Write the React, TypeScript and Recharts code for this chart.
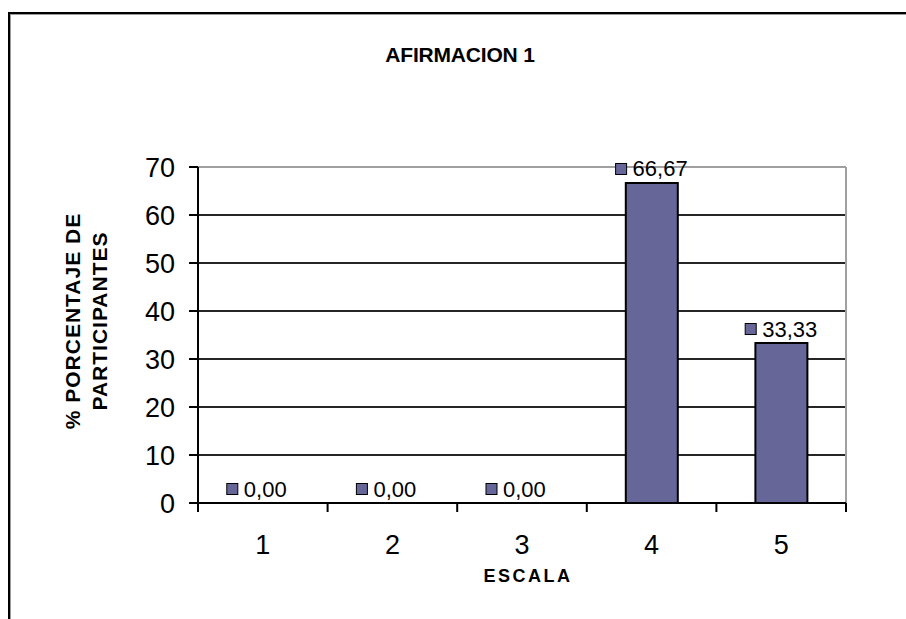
import React from "react";
import {
  ComposedChart,
  Bar,
  Line,
  XAxis,
  YAxis,
  CartesianGrid,
  ReferenceLine,
  LabelList,
} from "recharts";

const categories = ["1", "2", "3", "4", "5"];
const percentages = [0, 0, 0, 66.67, 33.33];
const yTicks = [0, 10, 20, 30, 40, 50, 60, 70];

const title = "AFIRMACION 1";
const yTitle = ["% PORCENTAJE DE", "PARTICIPANTES"];
const xTitle = "ESCALA";

const data = categories.map((c, i) => ({ escala: c, pct: percentages[i] }));

const FONT = '"Liberation Sans", Arial, sans-serif';
const BAR = "#666699";
const TICK_GAP = 32;

// value label with the little legend key in front, like Excel draws it
function ValueLabel(props: any) {
  const { x, y, value } = props;
  const cy = y - 14;
  return (
    <g>
      <rect x={x - 36} y={cy - 5.5} width={11} height={11} fill={BAR} stroke="#000" strokeWidth={1} />
      <text x={x - 19} y={cy} dominantBaseline="central" fontFamily={FONT} fontSize={22} fill="#000">
        {Number(value).toFixed(2).replace(".", ",")}
      </text>
    </g>
  );
}

// category label, plus tick marks on the category boundaries
function XTick(props: any) {
  const { x, y, payload, index, visibleTicksCount, width } = props;
  const half = payload.offset ?? width / categories.length / 2;
  const axisY = y - TICK_GAP;
  const last = index === (visibleTicksCount ?? categories.length) - 1;
  return (
    <g>
      <line x1={x - half} x2={x - half} y1={axisY} y2={axisY + 9} stroke="#000" strokeWidth={2} />
      {last && <line x1={x + half} x2={x + half} y1={axisY} y2={axisY + 9} stroke="#000" strokeWidth={2} />}
      <text x={x} y={y} dy="0.71em" textAnchor="middle" fontFamily={FONT} fontSize={27} fill="#000">
        {payload.value}
      </text>
    </g>
  );
}

export default function App() {
  return (
    <div style={{ position: "fixed", left: 0, top: 0, width: 906, height: 619, background: "#fff", overflow: "hidden" }}>
      <div style={{ position: "absolute", left: 8, top: 12, width: 900, height: 2, background: "#000" }} />
      <div style={{ position: "absolute", left: 8, top: 14, width: 900, height: 1, background: "#999" }} />
      <div style={{ position: "absolute", left: 8, top: 12, width: 2, height: 610, background: "#000" }} />
      <div style={{ position: "absolute", left: 10, top: 14, width: 1, height: 610, background: "#999" }} />
      <div
        style={{
          position: "absolute",
          left: 460 - 150,
          width: 300,
          top: 42,
          textAlign: "center",
          fontFamily: FONT,
          fontWeight: "bold",
          fontSize: 21,
          letterSpacing: -0.2,
          lineHeight: "26px",
          color: "#000",
        }}
      >
        {title}
      </div>
      <div
        style={{
          position: "absolute",
          left: 86 - 150,
          top: 321 - 27,
          width: 300,
          height: 54,
          transform: "rotate(-90deg)",
          textAlign: "center",
          fontFamily: FONT,
          fontWeight: "bold",
          fontSize: 21,
          letterSpacing: 1,
          lineHeight: "27px",
          color: "#000",
        }}
      >
        {yTitle.map((t) => (
          <div key={t}>{t}</div>
        ))}
      </div>
      <div
        style={{
          position: "absolute",
          left: 528 - 100,
          width: 200,
          top: 565,
          textAlign: "center",
          fontFamily: FONT,
          fontWeight: "bold",
          fontSize: 18,
          letterSpacing: 2.5,
          lineHeight: "22px",
          color: "#000",
        }}
      >
        {xTitle}
      </div>
      <div style={{ position: "absolute", left: 0, top: 0 }}>
        <ComposedChart
          width={906}
          height={619}
          data={data}
          margin={{ top: 167, right: 60, bottom: 46, left: 138 }}
          barSize={52}
        >
          <XAxis
            dataKey="escala"
            height={70}
            axisLine={{ stroke: "#000", strokeWidth: 2 }}
            tickLine={false}
            tickSize={0}
            tickMargin={TICK_GAP}
            tick={<XTick />}
            interval={0}
          />
          <YAxis
            domain={[0, 70]}
            ticks={yTicks}
            width={60}
            tickSize={9}
            tickMargin={14}
            axisLine={{ stroke: "#000", strokeWidth: 2 }}
            tickLine={{ stroke: "#000", strokeWidth: 2 }}
            tick={{ fill: "#000", fontSize: 27, fontFamily: FONT }}
          />
          <CartesianGrid vertical={false} stroke="#000" strokeWidth={2} strokeOpacity={0.85} />
          <CartesianGrid
            horizontal={false}
            verticalCoordinatesGenerator={({ offset }: any) => [offset.left + offset.width]}
            stroke="#a0a0a0"
            strokeWidth={2}
          />
          <ReferenceLine y={70} stroke="#a0a0a0" strokeWidth={2} />
          <Bar dataKey="pct" fill={BAR} stroke="#000" strokeWidth={2} isAnimationActive={false} />
          <Line
            dataKey="pct"
            stroke="none"
            dot={false}
            activeDot={false}
            legendType="none"
            isAnimationActive={false}
          >
            <LabelList dataKey="pct" content={ValueLabel} />
          </Line>
        </ComposedChart>
      </div>
    </div>
  );
}
